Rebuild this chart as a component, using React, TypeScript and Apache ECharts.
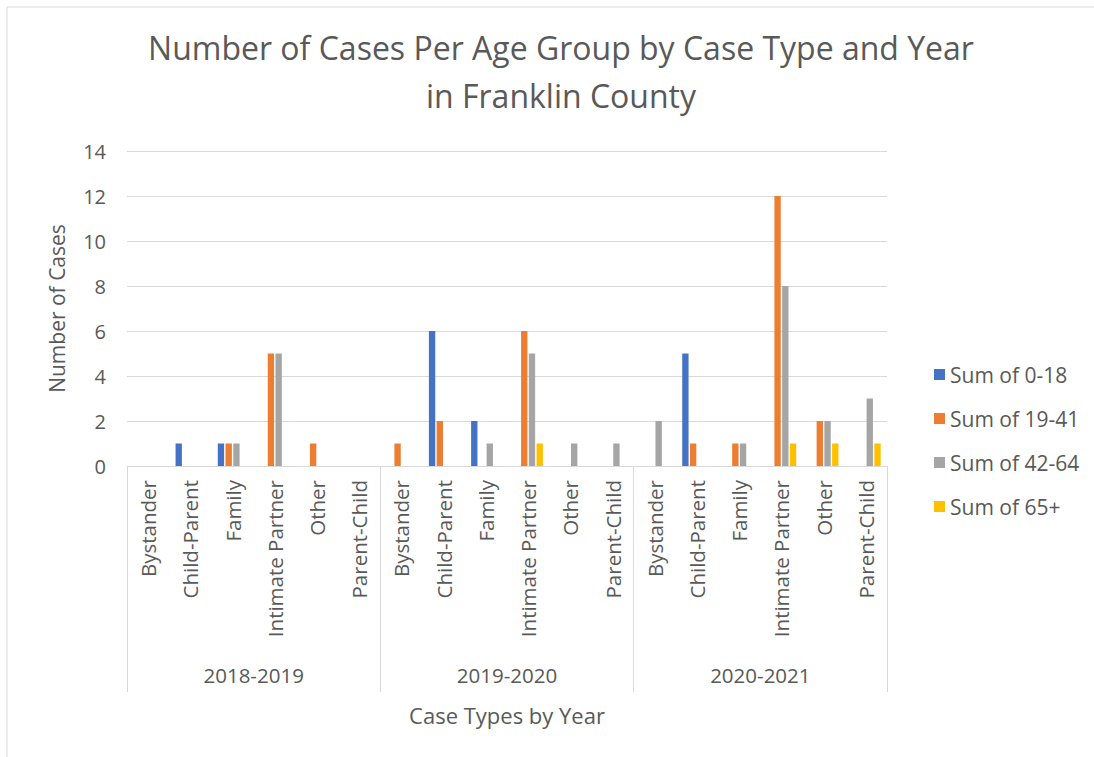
import React, { useEffect, useRef } from "react";
import * as echarts from "echarts";

const caseTypes = ["Bystander", "Child-Parent", "Family", "Intimate Partner", "Other", "Parent-Child"];
const years = ["2018-2019", "2019-2020", "2020-2021"];
const categories = years.flatMap(() => caseTypes);
const seriesNames = ["Sum of 0-18", "Sum of 19-41", "Sum of 42-64", "Sum of 65+"];
const age0to18 = [0, 1, 1, 0, 0, 0, 0, 6, 2, 0, 0, 0, 0, 5, 0, 0, 0, 0];
const age19to41 = [0, 0, 1, 5, 1, 0, 1, 2, 0, 6, 0, 0, 0, 1, 1, 12, 2, 0];
const age42to64 = [0, 0, 1, 5, 0, 0, 0, 0, 1, 5, 1, 1, 2, 0, 1, 8, 2, 3];
const age65plus = [0, 0, 0, 0, 0, 0, 0, 0, 0, 1, 0, 0, 0, 0, 0, 1, 1, 1];
const seriesValues = [age0to18, age19to41, age42to64, age65plus];
const colors = ["#4472C4", "#ED7D31", "#A5A5A5", "#FFC000"];
const yTicks = { min: 0, max: 14, interval: 2 };

const FONT = "'Open Sans', sans-serif";
const TEXT = "#595959";
const LINE = "#d9d9d9";

export default function App() {
  const ref = useRef<HTMLDivElement>(null);
  useEffect(() => {
    if (!ref.current) return;
    const chart = echarts.init(ref.current, null, { renderer: "svg" });
    chart.setOption({
      animation: false,
      backgroundColor: "#ffffff",
      textStyle: { fontFamily: FONT },
      title: {
        text: "Number of Cases Per Age Group by Case Type and Year\nin Franklin County",
        left: 556,
        top: 18,
        textAlign: "center",
        textStyle: { fontFamily: FONT, fontSize: 32, fontWeight: "normal", color: TEXT, lineHeight: 48 },
      },
      legend: {
        orient: "vertical",
        left: 929,
        top: 359,
        itemWidth: 11,
        itemHeight: 11,
        itemGap: 23,
        icon: "rect",
        textStyle: { fontFamily: FONT, fontSize: 21, color: TEXT },
        data: seriesNames,
      },
      grid: { left: 127, right: 207, top: 151, bottom: 291, containLabel: false },
      xAxis: [
        {
          type: "category",
          data: categories,
          axisLine: { show: true, lineStyle: { color: LINE, width: 1 } },
          axisTick: { show: false },
          axisLabel: { rotate: 90, fontSize: 20.5, color: TEXT, fontFamily: FONT, margin: 14, interval: 0 },
        },
        {
          type: "category",
          data: years,
          position: "bottom",
          offset: 226,
          axisLine: { show: false },
          axisTick: { show: true, inside: true, length: 226, lineStyle: { color: LINE, width: 1 } },
          axisLabel: { inside: true, margin: 7, fontSize: 20.5, color: TEXT, fontFamily: FONT },
          name: "Case Types by Year",
          nameLocation: "middle",
          nameGap: 12,
          nameTextStyle: { fontSize: 22, color: TEXT, fontFamily: FONT, verticalAlign: "top" },
        },
      ],
      yAxis: {
        type: "value",
        ...yTicks,
        axisLine: { show: false },
        axisTick: { show: false },
        splitLine: { lineStyle: { color: LINE, width: 1 } },
        axisLabel: { fontSize: 20, color: TEXT, fontFamily: FONT, margin: 21 },
        name: "Number of Cases",
        nameLocation: "middle",
        nameGap: 60,
        nameTextStyle: { fontSize: 21, color: TEXT, fontFamily: FONT },
      },
      series: seriesNames.map((name, i) => ({
        name,
        type: "bar",
        data: seriesValues[i],
        itemStyle: { color: colors[i] },
        barGap: "22%",
        barCategoryGap: "30%",
      })),
      graphic: [
        { type: "line", shape: { x1: 7, y1: 7, x2: 1094, y2: 7 }, style: { stroke: LINE, lineWidth: 1 } },
        { type: "line", shape: { x1: 7, y1: 7, x2: 7, y2: 757 }, style: { stroke: LINE, lineWidth: 1 } },
      ],
    });
    return () => chart.dispose();
  }, []);
  return (
    <div
      ref={ref}
      style={{ position: "absolute", left: 0, top: 0, width: 1094, height: 757 }}
    />
  );
}
